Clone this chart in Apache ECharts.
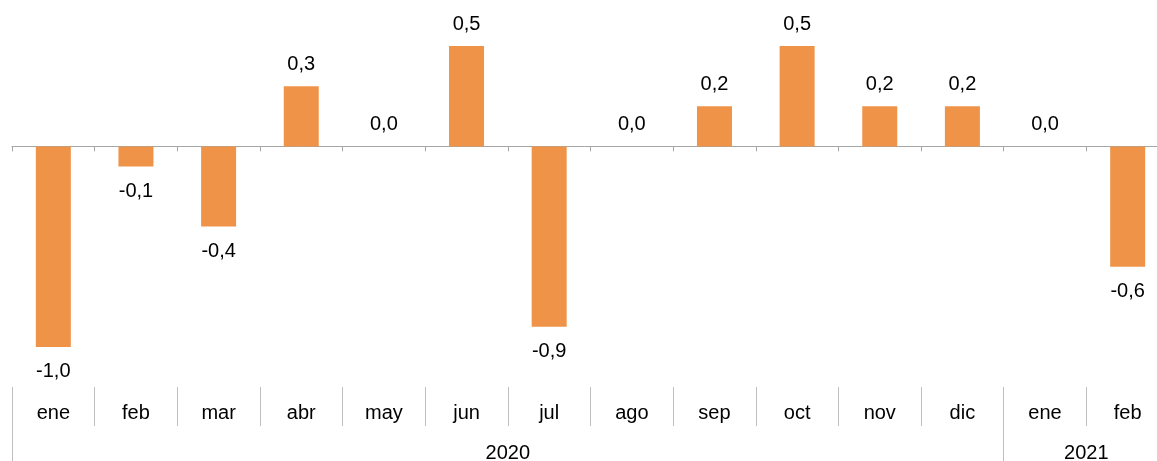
<!DOCTYPE html>
<html>
<head>
<meta charset="utf-8">
<script src="https://cdn.jsdelivr.net/npm/echarts@6/dist/echarts.min.js"></script>
<style>
html,body{margin:0;padding:0;background:#fff;}
#chart{width:1157px;height:461px;}
</style>
</head>
<body>
<div id="chart"></div>
<script>
const months = ['ene','feb','mar','abr','may','jun','jul','ago','sep','oct','nov','dic','ene','feb'];
const values = [-1.0,-0.1,-0.4,0.3,0.0,0.5,-0.9,0.0,0.2,0.5,0.2,0.2,0.0,-0.6];
const years = ['2020','2021'];
const yearCenters = [6, 13];
const yearStarts = [0, 12];

const font = "'Liberation Sans', Arial, sans-serif";
const chart = echarts.init(document.getElementById('chart'));

const barData = values.map(v => ({
  value: v,
  label: { position: v < 0 ? 'bottom' : 'top', distance: v < 0 ? 15 : 12 }
}));

chart.setOption({
  animation: false,
  grid: { left: 12, right: -12, top: 0, bottom: 74, outerBoundsMode: 'none', containLabel: false },
  yAxis: { type: 'value', min: -1.2, max: 0.73, show: false },
  xAxis: [
    {
      type: 'category', data: months,
      axisLine: { onZero: true, lineStyle: { color: '#A6A6A6', width: 1 } },
      axisTick: { show: true, length: 5, interval: 0, lineStyle: { color: '#A6A6A6' } },
      axisLabel: { show: false }
    },
    {
      type: 'category', data: months, position: 'bottom',
      axisLine: { show: false, onZero: false },
      axisTick: { show: true, length: 39, interval: 0, lineStyle: { color: '#BFBFBF' } },
      axisLabel: { show: true, interval: 0, margin: 16, fontSize: 20, color: '#000', fontFamily: font }
    },
    {
      type: 'category', data: months, position: 'bottom',
      axisLine: { show: false, onZero: false },
      axisTick: { show: true, length: 75, interval: (i) => yearStarts.indexOf(i) >= 0, lineStyle: { color: '#BFBFBF' } },
      axisLabel: { show: false }
    },
    {
      type: 'value', min: 0, max: months.length, interval: 1, position: 'bottom',
      axisLine: { show: false, onZero: false },
      axisTick: { show: false },
      splitLine: { show: false },
      axisLabel: {
        show: true, margin: 56, fontSize: 20, color: '#000', fontFamily: font,
        showMinLabel: true, showMaxLabel: true,
        formatter: (v) => { const k = yearCenters.indexOf(v); return k >= 0 ? years[k] : ''; }
      }
    }
  ],
  series: [{
    type: 'bar',
    xAxisIndex: 0,
    data: barData,
    barWidth: 35,
    itemStyle: { color: '#EF9349' },
    label: {
      show: true, fontSize: 20, color: '#000', fontFamily: font,
      formatter: (p) => p.value.toFixed(1).replace('.', ',')
    }
  }]
});
</script>
</body>
</html>
